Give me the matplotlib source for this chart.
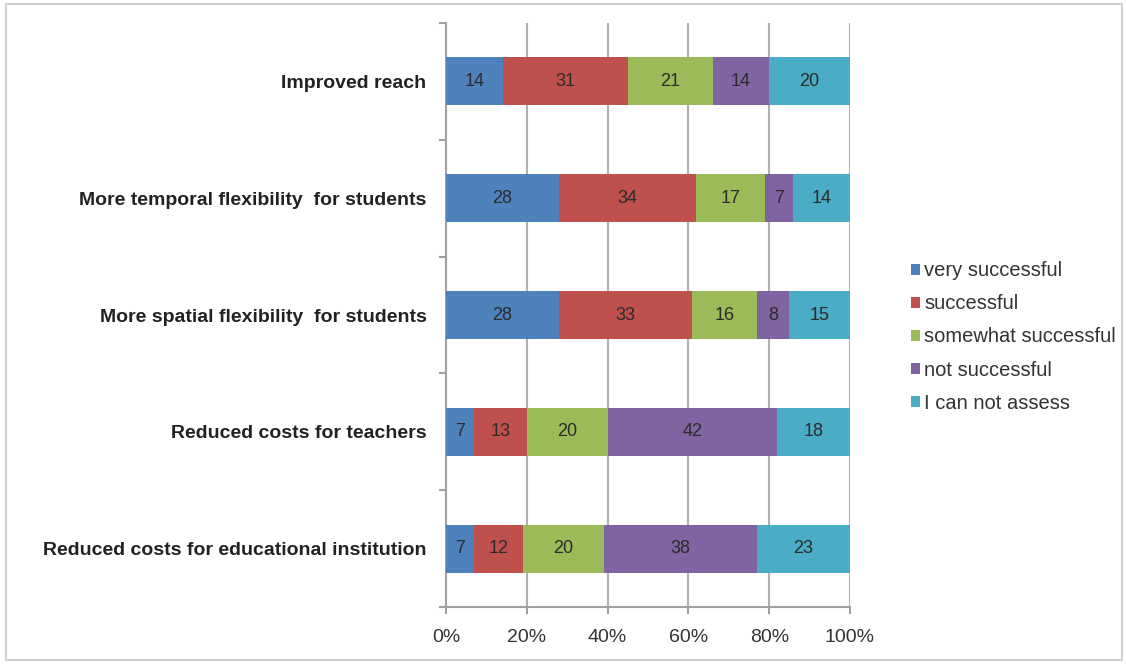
import matplotlib.pyplot as plt
import numpy as np
from matplotlib.patches import Rectangle

plt.rcParams['font.family'] = ['Liberation Sans', 'DejaVu Sans']

categories = ['Improved reach',
              'More temporal flexibility  for students',
              'More spatial flexibility  for students',
              'Reduced costs for teachers',
              'Reduced costs for educational institution']
series = ['very successful', 'successful', 'somewhat successful',
          'not successful', 'I can not assess']
very_successful = [14, 28, 28, 7, 7]
successful = [31, 34, 33, 13, 12]
somewhat_successful = [21, 17, 16, 20, 20]
not_successful = [14, 7, 8, 42, 38]
cannot_assess = [20, 14, 15, 18, 23]
ticks = ['0%', '20%', '40%', '60%', '80%', '100%']

colors = ['#4F81BD', '#C0504D', '#9BBB59', '#8064A2', '#4BACC6']
values = [very_successful, successful, somewhat_successful, not_successful, cannot_assess]

fig = plt.figure(figsize=(11.26, 6.64), dpi=100)
fig.patches.append(Rectangle((6 / 1126, 4 / 664), 1116 / 1126, 656 / 664,
                             transform=fig.transFigure, fill=False,
                             edgecolor='#D0D0D0', linewidth=1.5))
ax = fig.add_axes([446 / 1126, 57 / 664, 404 / 1126, 584 / 664])

y = np.arange(len(categories))
left = np.zeros(len(categories))
for vals, name, col in zip(values, series, colors):
    vals = np.array(vals, dtype=float)
    bars = ax.barh(y, vals, left=left, height=0.41, color=col, label=name, zorder=3)
    for b, v in zip(bars, vals):
        ax.text(b.get_x() + b.get_width() / 2, b.get_y() + b.get_height() / 2,
                '%d' % v, ha='center', va='center', fontsize=13, color='#2B2B2B', zorder=4)
    left += vals

ax.set_xlim(0, 100)
ax.set_ylim(len(categories) - 0.5, -0.5)
ax.set_xticks(np.linspace(0, 100, 6))
ax.set_xticklabels(ticks, fontsize=14, color='#333333')
ax.set_yticks(y)
ax.set_yticklabels(categories, fontsize=14, fontweight='bold', color='#222222')
ax.set_yticks(np.arange(-0.5, len(categories)), minor=True)
ax.tick_params(axis='y', which='major', length=0, pad=14)
ax.tick_params(axis='y', which='minor', length=5, width=1.5, color='#A0A0A0')
ax.tick_params(axis='x', length=5, width=1.5, color='#A0A0A0', pad=11)
ax.grid(axis='x', color='#B0B0B0', linewidth=1.5, zorder=0)
for s in ['top', 'right']:
    ax.spines[s].set_visible(False)
for s in ['left', 'bottom']:
    ax.spines[s].set_color('#A0A0A0')
    ax.spines[s].set_linewidth(1.5)

ax.legend(loc='center left', bbox_to_anchor=(893 / 1126, 327 / 664),
          bbox_transform=fig.transFigure, frameon=False, fontsize=14.5,
          handlelength=0.45, handleheight=0.45, handletextpad=0.2,
          labelspacing=0.7, labelcolor='#333333')

fig.savefig('out.png', dpi=100)
